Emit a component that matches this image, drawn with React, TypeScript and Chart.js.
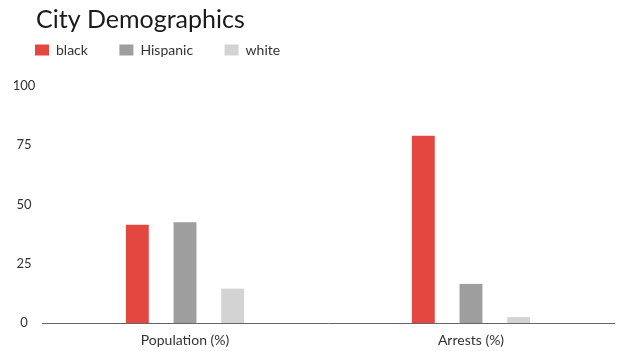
import React, { useEffect, useRef } from "react";
import { Chart, registerables } from "chart.js";

Chart.register(...registerables);

const categories = ["Population (%)", "Arrests (%)"];
const seriesNames = ["black", "Hispanic", "white"];
const blackValues = [41.5, 79];
const hispanicValues = [42.5, 16.5];
const whiteValues = [14.5, 2.5];
const seriesColors = ["#E4473F", "#9E9E9E", "#D3D3D3"];
const yTicks = [0, 25, 50, 75, 100];

const TITLE_X = 36;
const LEGEND_X = 35;
const LEGEND_Y = 43;
const Y_AXIS_WIDTH = 42;
const X_AXIS_HEIGHT = 28;

const placeHeader = {
  id: "placeHeader",
  afterLayout(chart: any) {
    const t = chart.titleBlock;
    if (t) {
      const dx = TITLE_X - t.left;
      t.left += dx;
      t.right += dx;
    }
    const lg = chart.legend;
    if (lg) {
      const pad = lg.options.labels.padding;
      const dx = LEGEND_X - (lg.left + pad);
      lg.left += dx;
      lg.right += dx;
      const dy = LEGEND_Y - (lg.top + pad);
      lg.top += dy;
      lg.bottom += dy;
    }
  },
};

export default function App() {
  const ref = useRef<HTMLCanvasElement>(null);
  useEffect(() => {
    if (!ref.current) return;
    const values = [blackValues, hispanicValues, whiteValues];
    const chart = new Chart(ref.current, {
      type: "bar",
      data: {
        labels: categories,
        datasets: seriesNames.map((name, i) => ({
          label: name,
          data: values[i],
          backgroundColor: seriesColors[i],
          borderWidth: 0,
          categoryPercentage: 0.5,
          barPercentage: 0.48,
        })),
      },
      options: {
        responsive: false,
        animation: false,
        layout: { padding: { left: 0, right: 16, top: 0, bottom: 0 } },
        plugins: {
          title: {
            display: true,
            text: "City Demographics",
            align: "start",
            color: "#1a1a1a",
            font: { family: "Lato", size: 25, weight: "normal" },
            padding: { top: 5, bottom: 0 },
          },
          legend: {
            display: true,
            align: "start",
            maxHeight: 51,
            labels: {
              boxWidth: 14,
              boxHeight: 11,
              padding: 31.5,
              color: "#333",
              font: { family: "Lato", size: 14 },
            },
          },
          tooltip: { enabled: false },
        },
        scales: {
          x: {
            afterFit: (axis: any) => {
              axis.height = X_AXIS_HEIGHT;
            },
            grid: { display: false, drawTicks: false },
            border: { display: true, color: "#666", width: 1 },
            ticks: {
              color: "#333",
              padding: 8.6,
              font: { family: "Lato", size: 14 },
            },
          },
          y: {
            min: 0,
            max: 100,
            afterBuildTicks: (axis: any) => {
              axis.ticks = yTicks.map((v) => ({ value: v }));
            },
            afterFit: (axis: any) => {
              axis.width = Y_AXIS_WIDTH;
            },
            grid: { display: false, drawTicks: false },
            border: { display: false },
            ticks: {
              color: "#333",
              padding: 6.7,
              crossAlign: "center",
              font: { family: "Lato", size: 13 },
            },
          },
        },
      },
      plugins: [placeHeader],
    } as any);
    return () => chart.destroy();
  }, []);
  return (
    <div style={{ position: "fixed", top: 0, left: 0, width: 630, height: 351, background: "#fff" }}>
      <canvas ref={ref} width={630} height={351} style={{ display: "block" }} />
    </div>
  );
}
